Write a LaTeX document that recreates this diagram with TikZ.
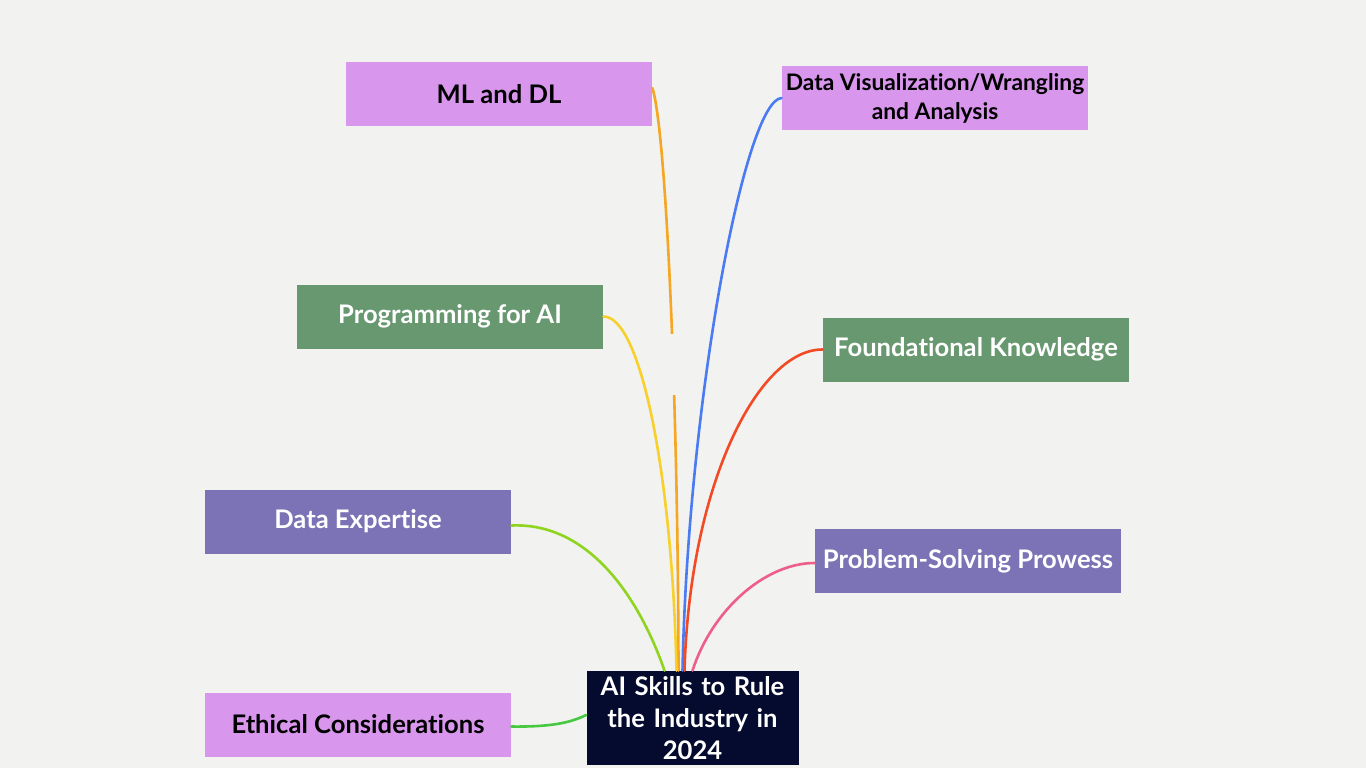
\documentclass[tikz,border=0pt]{standalone}
\usepackage{fontspec}
\setmainfont{Lato}[Ligatures=NoCommon]
\definecolor{canvas}{HTML}{F2F2F1}
\definecolor{lilac}{HTML}{D896EC}
\definecolor{sage}{HTML}{67986F}
\definecolor{iris}{HTML}{7B73B5}
\definecolor{navy}{HTML}{050B2E}
\definecolor{amber}{HTML}{F5A623}
\definecolor{azure}{HTML}{4A7BF2}
\definecolor{gold}{HTML}{F7D02C}
\definecolor{vermil}{HTML}{F24A25}
\definecolor{lime}{HTML}{8FD41E}
\definecolor{rose}{HTML}{EE5E8A}
\definecolor{leaf}{HTML}{46C940}
\tikzset{
    skill/.style={minimum width=153pt,minimum height=32pt,inner sep=0pt,align=center,
        font=\bfseries\fontsize{12.8}{14.5}\selectfont},
    lilacbox/.style={skill,fill=lilac,text=black},
    sagebox/.style={skill,fill=sage,text=white},
    irisbox/.style={skill,fill=iris,text=white},
    branch/.style={line width=1.3pt,line cap=round}
}
\begin{document}
\begin{tikzpicture}[x=0.5pt,y=-0.5pt]
    \fill[canvas] (0,0) rectangle (1366,768);
    \useasboundingbox (0,0) rectangle (1366,768);
    \node[lilacbox] (ml)    at (499,94)    {ML and DL};
    \node[lilacbox,font=\bfseries\fontsize{11.4}{14.5}\selectfont]
                    (viz)   at (935,98)    {Data Visualization/Wrangling\\and Analysis};
    \node[sagebox]  (prog)  at (450,316.5) {Programming for AI};
    \node[sagebox]  (found) at (976,349.5) {Foundational Knowledge};
    \node[irisbox]  (exp)   at (358,521.5) {Data Expertise};
    \node[irisbox]  (prob)  at (968,561)   {Problem-Solving Prowess};
    \node[lilacbox] (eth)   at (358,724.5) {Ethical Considerations};
    \node[fill=navy,text=white,minimum width=106pt,minimum height=47pt,inner sep=0pt,
          text width=104pt,align=center,font=\bfseries\fontsize{12.8}{16}\selectfont]
          (ai) at (692.5,718) {AI Skills to Rule\\the Industry in\\2024};
    \coordinate (hubml)   at ([xshift=-7pt]ai.north);
    \coordinate (hubviz)  at ([xshift=-5pt]ai.north);
    \coordinate (hubprog) at ([xshift=-8pt]ai.north);
    \coordinate (hubfnd)  at ([xshift=-4pt]ai.north);
    \coordinate (hubexp)  at ([xshift=-14pt]ai.north);
    \coordinate (hubprob) at ([xshift=0pt]ai.north);
    \begin{scope}
        \clip (0,0) rectangle (1366,333);
        \draw[branch,amber] ([yshift=3pt]ml.east) .. controls (666,130) and (678,400) .. (hubml);
    \end{scope}
    \begin{scope}
        \clip (0,395) rectangle (1366,768);
        \draw[branch,amber] ([yshift=3pt]ml.east) .. controls (666,130) and (678,400) .. (hubml);
    \end{scope}
    \draw[branch,azure]  (viz.west) .. controls (745,100) and (688,400) .. (hubviz);
    \draw[branch,gold]   (prog.east) .. controls (640,316) and (672,470) .. (hubprog);
    \draw[branch,vermil] (found.west) .. controls (760,349) and (690,480) .. (hubfnd);
    \draw[branch,lime]   ([yshift=-2pt]exp.east) .. controls (590,522) and (640,600) .. (hubexp);
    \draw[branch,rose]   ([yshift=-1pt]prob.west) .. controls (765,563) and (712,610) .. (hubprob);
    \draw[branch,leaf]   ([yshift=-1pt]eth.east) .. controls (550,727) and (570,723) .. ([yshift=1.5pt]ai.west);
\end{tikzpicture}
\end{document}
